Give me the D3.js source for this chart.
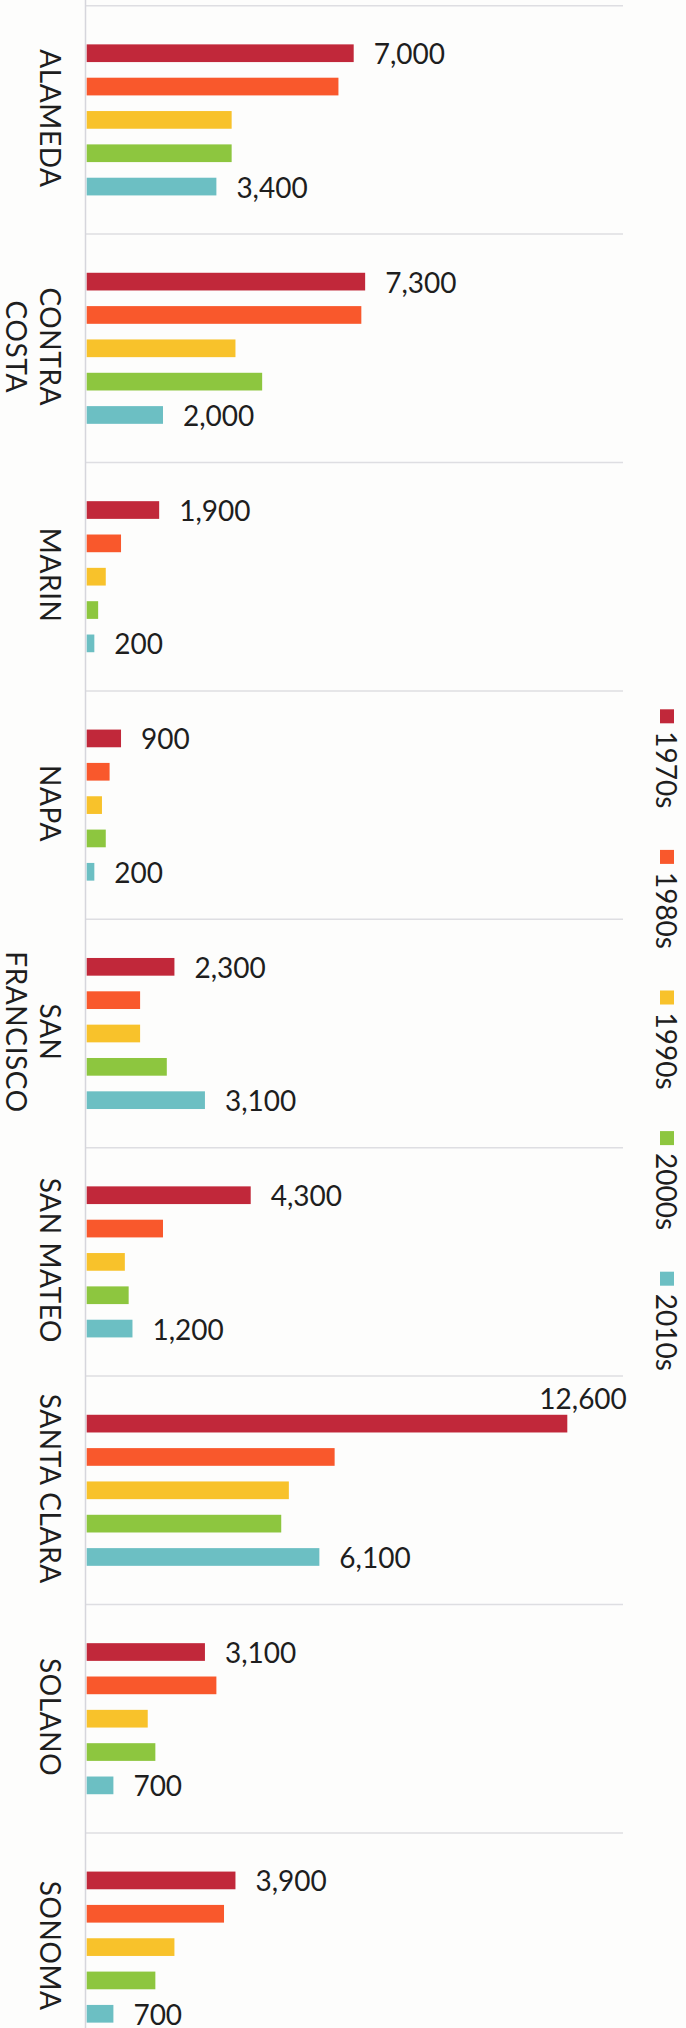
<!DOCTYPE html>
<html>
<head>
<meta charset="utf-8">
<script src="https://cdn.jsdelivr.net/npm/d3@7"></script>
<style>
  html, body { margin: 0; padding: 0; background: #fdfdfc; }
  svg { display: block; }
</style>
</head>
<body>
<svg id="chart" width="686" height="2028"></svg>
<script>
// ---- data ----
const counties = [["ALAMEDA"], ["CONTRA", "COSTA"], ["MARIN"], ["NAPA"], ["SAN", "FRANCISCO"],
                  ["SAN MATEO"], ["SANTA CLARA"], ["SOLANO"], ["SONOMA"]];
const decades = ["1970s", "1980s", "1990s", "2000s", "2010s"];
const values1970s = [7000, 7300, 1900, 900, 2300, 4300, 12600, 3100, 3900];
const values1980s = [6600, 7200, 900, 600, 1400, 2000, 6500, 3400, 3600];
const values1990s = [3800, 3900, 500, 400, 1400, 1000, 5300, 1600, 2300];
const values2000s = [3800, 4600, 300, 500, 2100, 1100, 5100, 1800, 1800];
const values2010s = [3400, 2000, 200, 200, 3100, 1200, 6100, 700, 700];
const colors = ["#c1283a", "#f9582c", "#f8c22b", "#8dc63f", "#6cbfc3"];

const series = [values1970s, values1980s, values1990s, values2000s, values2010s];
const keys = counties.map(c => c.join(" "));

const svg = d3.select("#chart");
const W = 686, H = 2028;

// ---- scales ----
const x = d3.scaleLinear().domain([0, 12600]).range([86.7, 567.3]);
const groupStep = 228.4;
const y0 = d3.scaleBand().domain(keys).range([5.7, 5.7 + groupStep * keys.length]).padding(0);
const y1 = d3.scaleBand().domain(decades).range([0, groupStep]).paddingInner(0.469).paddingOuter(1.16);
const color = d3.scaleOrdinal().domain(decades).range(colors);
const fmt = d3.format(",");

// ---- separators & axis ----
svg.append("g").selectAll("line").data(keys).join("line")
  .attr("x1", 86).attr("x2", 623)
  .attr("y1", d => y0(d)).attr("y2", d => y0(d))
  .attr("stroke", "#dedee2").attr("stroke-width", 1.5);

svg.append("line")
  .attr("x1", 85.5).attr("x2", 85.5).attr("y1", 0).attr("y2", H)
  .attr("stroke", "#d6d6dc").attr("stroke-width", 1.5);

// ---- bars ----
const groups = svg.append("g").selectAll("g").data(keys).join("g")
  .attr("transform", d => `translate(0,${y0(d)})`);

groups.each(function(k, gi) {
  const g = d3.select(this);
  const rows = decades.map((dec, si) => ({ dec, si, v: series[si][gi] }));
  g.selectAll("rect").data(rows).join("rect")
    .attr("x", x(0))
    .attr("y", d => y1(d.dec))
    .attr("width", d => x(d.v) - x(0))
    .attr("height", y1.bandwidth())
    .attr("fill", d => color(d.dec));

  const lab = rows.filter(d => d.si === 0 || d.si === decades.length - 1);
  g.selectAll("text.val").data(lab).join("text")
    .attr("class", "val")
    .attr("x", d => (x(d.v) + 21 + 72 > 623) ? x(d.v) - 28 : x(d.v) + 20)
    .attr("y", d => (x(d.v) + 21 + 72 > 623) ? y1(d.dec) - 17 : y1(d.dec) + y1.bandwidth() / 2)
    .attr("dominant-baseline", "central")
    .attr("font-family", "Lato, 'Open Sans', sans-serif")
    .attr("font-size", 28)
    .attr("fill", "#1e1e1e")
    .text(d => fmt(d.v));

  // category label, rotated clockwise
  const cy = groupStep / 2 - 1.5;
  const t = g.append("text")
    .attr("transform", `translate(50.5,${cy}) rotate(90)`)
    .attr("text-anchor", "middle")
    .attr("font-family", "Lato, 'Open Sans', sans-serif")
    .attr("font-size", 28)
    .attr("letter-spacing", 0.6)
    .attr("fill", "#1e1e1e");
  counties[gi].forEach((line, li) => {
    t.append("tspan")
      .attr("x", 0)
      .attr("y", li * 34)
      .attr("dominant-baseline", "central")
      .text(line);
  });
});

// ---- legend ----
const ly = d3.scalePoint().domain(decades).range([709.3, 709.3 + 140.6 * 4]);
const leg = svg.append("g").selectAll("g").data(decades).join("g")
  .attr("transform", d => `translate(0,${ly(d)})`);
leg.append("rect")
  .attr("x", 660).attr("y", 0).attr("width", 14).attr("height", 14)
  .attr("fill", d => color(d));
leg.append("text")
  .attr("transform", "translate(667,22) rotate(90)")
  .attr("dominant-baseline", "central")
  .attr("font-family", "Lato, 'Open Sans', sans-serif")
  .attr("font-size", 28)
  .attr("fill", "#1e1e1e")
  .text(d => d);
</script>
</body>
</html>
